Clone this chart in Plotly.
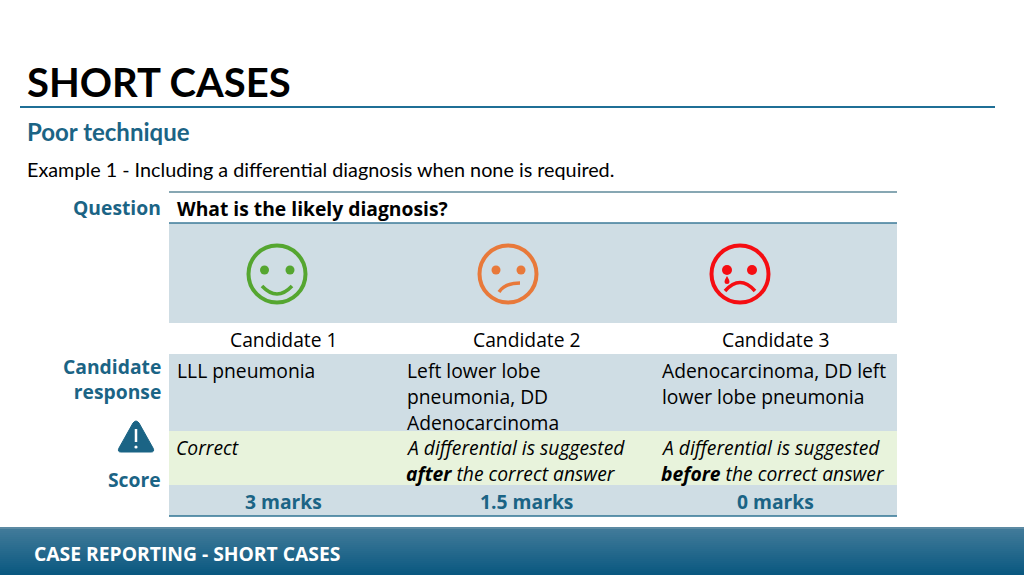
import plotly.graph_objects as go

# slide texts
candidates = ['Candidate 1', 'Candidate 2', 'Candidate 3']
responses = [
    ['LLL pneumonia'],
    ['Left lower lobe', 'pneumonia, DD', 'Adenocarcinoma'],
    ['Adenocarcinoma, DD left', 'lower lobe pneumonia'],
]
comments = [
    ['<i>Correct</i>'],
    ['<i>A differential is suggested</i>', '<b><i>after</i></b><i> the correct answer</i>'],
    ['<i>A differential is suggested</i>', '<b><i>before</i></b><i> the correct answer</i>'],
]
scores = ['3 marks', '1.5 marks', '0 marks']

BLUE = '#1b6485'
ROW_BLUE = '#cfdde4'
ROW_GREEN = '#e8f3dc'
SANS = 'Open Sans'
LATO = 'Lato'
BODY = 19.3

fig = go.Figure()
shapes = []
notes = []


def rect(x0, y0, x1, y1, color):
    shapes.append(dict(type='rect', x0=x0, y0=y0, x1=x1, y1=y1, fillcolor=color, line_width=0, layer='below'))


def hline(x0, x1, y, color, width=1.5):
    shapes.append(dict(type='line', x0=x0, x1=x1, y0=y, y1=y, line=dict(color=color, width=width)))


def circle(cx, cy, r, line=None, fill=None, width=4):
    shapes.append(dict(type='circle', x0=cx - r, x1=cx + r, y0=cy - r, y1=cy + r,
                       fillcolor=fill if fill else 'rgba(0,0,0,0)',
                       line=dict(color=line, width=width) if line else dict(width=0)))


def curve(path, color, width=3.5):
    shapes.append(dict(type='path', path=path, line=dict(color=color, width=width)))


def text(x, y, s, size, color='#000000', family=SANS, anchor='left'):
    notes.append(dict(x=x, y=y, text=s, showarrow=False, xanchor=anchor, yanchor='middle', borderpad=0,
                      align=anchor, font=dict(family=family, size=size, color=color)))


# table rows
rect(169, 223, 897, 323, ROW_BLUE)
rect(169, 354, 897, 431, ROW_BLUE)
rect(169, 431, 897, 485, ROW_GREEN)
rect(169, 485, 897, 516, ROW_BLUE)
hline(169, 897, 192, '#5f8a9a')
hline(169, 897, 223, '#3d7a99')
hline(169, 897, 516, '#2f7393')

# footer gradient
footer_top = (64, 122, 153)
footer_bottom = (10, 88, 128)
rect(0, 527, 1024, 529, '#5c8aa3')
for i in range(23):
    t = i / 22
    c = [round(a + (b - a) * t) for a, b in zip(footer_top, footer_bottom)]
    rect(0, 529 + i * 2, 1024, 531 + i * 2, f'rgb({c[0]},{c[1]},{c[2]})')

# header
text(26, 81.5, '<b>SHORT CASES</b>', 40, family=LATO)
hline(20, 995, 107, '#1f6f96', 2)
text(26, 131.5, '<b>Poor technique</b>', 24, BLUE, LATO)
text(26, 169, 'Example 1 - Including a differential diagnosis when none is required.', 19.8, family=LATO)

# left labels
text(161.5, 207.5, '<b>Question</b>', BODY, BLUE, anchor='right')
text(161.5, 378.5, '<b>Candidate</b><br><b>response</b>', BODY, BLUE, anchor='right')
text(161.5, 479.5, '<b>Score</b>', BODY, BLUE, anchor='right')
text(175.5, 208.5, '<b>What is the likely diagnosis?</b>', BODY)

# warning sign
shapes.append(dict(type='path', fillcolor=BLUE, line=dict(color=BLUE, width=1),
                   path='M133,423 Q136,419 139,423 L153,448 Q155,452 151,452 L121,452 Q117,452 119,448 Z'))
shapes.append(dict(type='line', x0=136, x1=136, y0=429, y1=442, line=dict(color='#ffffff', width=2.5)))
circle(136, 447, 1.6, fill='#ffffff')

# faces
GREEN = '#55a630'
ORANGE = '#e8793a'
RED = '#f50d12'
circle(277, 274, 28.5, GREEN)
circle(264.5, 270, 4.5, fill=GREEN)
circle(290, 270, 4.5, fill=GREEN)
curve('M262,286 Q277,302 292,286', GREEN)

circle(508, 274, 28.5, ORANGE)
circle(496, 270, 4.5, fill=ORANGE)
circle(521, 270, 4.5, fill=ORANGE)
curve('M499,292 Q505,283 520,283', ORANGE)

circle(740, 274, 28.5, RED)
circle(727, 270, 5, fill=RED)
circle(752, 270, 5, fill=RED)
shapes.append(dict(type='path', path='M727,276 Q722,284 727,284 Q732,284 727,276 Z', fillcolor=RED, line_width=0))
curve('M725,291 Q740,274 755,291', RED)

# table text
head_x = [283.5, 526.5, 775.5]
body_x = [176, 406, 661]
for i in range(3):
    text(head_x[i], 339.5, candidates[i], BODY, anchor='center')
    for j, line in enumerate(responses[i]):
        text(body_x[i], 370.5 + j * 26, line, BODY)
    for j, line in enumerate(comments[i]):
        text(body_x[i] - 1, 447.5 + j * 26, line, BODY)
    text(head_x[i], 501.5, f'<b>{scores[i]}</b>', BODY, BLUE, anchor='center')

text(33, 553.5, '<b>CASE REPORTING - SHORT CASES</b>', BODY, '#ffffff')

fig.update_layout(
    width=1024, height=575,
    margin=dict(l=0, r=0, t=0, b=0),
    paper_bgcolor='white', plot_bgcolor='white',
    showlegend=False,
    xaxis=dict(range=[0, 1024], visible=False, fixedrange=True),
    yaxis=dict(range=[575, 0], visible=False, fixedrange=True),
    shapes=shapes, annotations=notes,
)
fig.write_html('out.html', config=dict(displayModeBar=False), post_script="document.body.style.margin='0';")
